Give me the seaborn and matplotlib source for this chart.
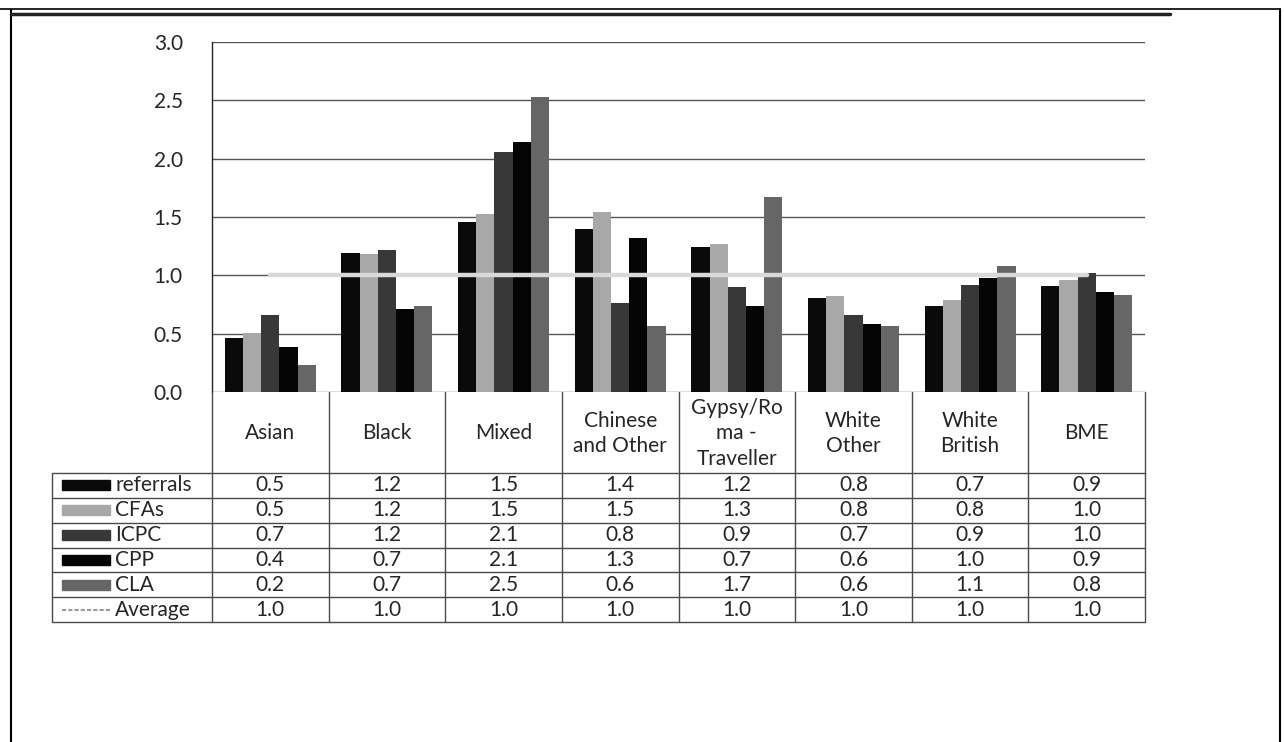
import numpy as np
import pandas as pd
import matplotlib.pyplot as plt
import seaborn as sns
from matplotlib.lines import Line2D
from matplotlib.patches import Rectangle

sns.set_style("white")
plt.rcParams["font.family"] = ["Lato", "DejaVu Sans"]

# data (bar heights), table shows them rounded
groups = ["Asian", "Black", "Mixed", "Chinese\nand Other", "Gypsy/Ro\nma -\nTraveller",
          "White\nOther", "White\nBritish", "BME"]
series = ["referrals", "CFAs", "ICPC", "CPP", "CLA"]
referrals = [0.46, 1.19, 1.46, 1.40, 1.24, 0.81, 0.74, 0.91]
cfas = [0.51, 1.18, 1.53, 1.54, 1.27, 0.82, 0.79, 0.96]
icpc = [0.66, 1.22, 2.06, 0.76, 0.90, 0.66, 0.92, 1.02]
cpp = [0.39, 0.71, 2.14, 1.32, 0.74, 0.58, 0.98, 0.86]
cla = [0.23, 0.74, 2.53, 0.57, 1.67, 0.57, 1.08, 0.83]
average = [1.0, 1.0, 1.0, 1.0, 1.0, 1.0, 1.0, 1.0]
yticks = [0.0, 0.5, 1.0, 1.5, 2.0, 2.5, 3.0]

colors = ["#0a0a0a", "#a8a8a8", "#383838", "#050505", "#666666"]
avg_color = "#d9d9d9"
line_col = "#4a4a4a"
fs = 15

vals = [referrals, cfas, icpc, cpp, cla]
df = pd.DataFrame({"group": np.tile(groups, len(series)),
                   "series": np.repeat(series, len(groups)),
                   "value": np.concatenate(vals)})

W, H = 1284, 742
fig = plt.figure(figsize=(W / 100, H / 100), dpi=100)

def fx(px):
    return px / W

def fy(py):
    return 1 - py / H

# plot area
left, right, top, zero = 212, 1145, 42, 392
ax = fig.add_axes([fx(left), fy(zero), fx(right - left), (zero - top) / H])
sns.barplot(data=df, x="group", y="value", hue="series", order=groups, hue_order=series,
            palette=colors, width=0.78, saturation=1, legend=False, ax=ax, zorder=2,
            edgecolor="none", errorbar=None)
sns.lineplot(x=list(range(len(groups))), y=average, color=avg_color, lw=3.2, ax=ax,
             zorder=3, dashes=False)
ax.set_xlim(-0.5, len(groups) - 0.5)
ax.set_ylim(0, 3)
ax.set_yticks(yticks)
ax.set_yticklabels([f"{t:.1f}" for t in yticks], fontsize=fs)
ax.set_xticks([])
ax.set_xlabel("")
ax.set_ylabel("")
ax.yaxis.grid(True, color="#555555", lw=1, zorder=0)
ax.set_axisbelow(True)
for s in ["top", "right", "bottom"]:
    ax.spines[s].set_visible(False)
ax.spines["left"].set_color("#222222")
ax.spines["left"].set_linewidth(1)
ax.tick_params(axis="y", direction="out", length=9, width=1, color="#444444", pad=12)

# data table below the plot
tab_bottom = 622
head_h = 81
row_h = (tab_bottom - zero - head_h) / 6
tab = fig.add_axes([fx(left), fy(tab_bottom), fx(right - left), (tab_bottom - zero) / H])
tab.set_xlim(-0.5, len(groups) - 0.5)
tab.set_ylim(tab_bottom - zero, 0)
tab.axis("off")
unit = (right - left) / len(groups)
lab_left = -0.5 - (left - 52) / unit

for i in range(len(groups) + 1):
    tab.plot([i - 0.5, i - 0.5], [0, tab_bottom - zero], color=line_col, lw=1, clip_on=False)
tab.plot([lab_left, lab_left], [head_h, tab_bottom - zero], color=line_col, lw=1, clip_on=False)
for k in range(7):
    yy = head_h + k * row_h
    tab.plot([lab_left, len(groups) - 0.5], [yy, yy], color=line_col, lw=1, clip_on=False)

for i, g in enumerate(groups):
    tab.text(i, head_h / 2 + 1, g, ha="center", va="center", fontsize=fs, linespacing=1.32)

rows = vals + [average]
names = series + ["Average"]
for k, (name, row) in enumerate(zip(names, rows)):
    yc = head_h + (k + 0.5) * row_h
    for i, v in enumerate(row):
        tab.text(i, yc, f"{v:.1f}", ha="center", va="center", fontsize=fs)
    kx = lab_left + 10 / unit
    kw = 48 / unit
    if k < len(series):
        tab.add_patch(Rectangle((kx, yc - 5), kw, 10, color=colors[k], clip_on=False))
    else:
        tab.plot([kx, kx + kw], [yc, yc], color="#9a9a9a", lw=1.5, ls=(0, (2, 1)), clip_on=False)
    tab.text(lab_left + 63 / unit, yc, name, ha="left", va="center", fontsize=fs)

# scan frame
fig.add_artist(Line2D([fx(11), fx(11)], [fy(10), fy(742)], color="black", lw=1.5))
fig.add_artist(Line2D([fx(1280), fx(1280)], [fy(9), fy(742)], color="black", lw=1.5))
fig.add_artist(Line2D([fx(0), fx(1280)], [fy(9), fy(9)], color="black", lw=1.2))
fig.add_artist(Line2D([fx(11), fx(1170)], [fy(14), fy(14)], color="#222222", lw=2.5))

fig.savefig("out.png", dpi=100)
